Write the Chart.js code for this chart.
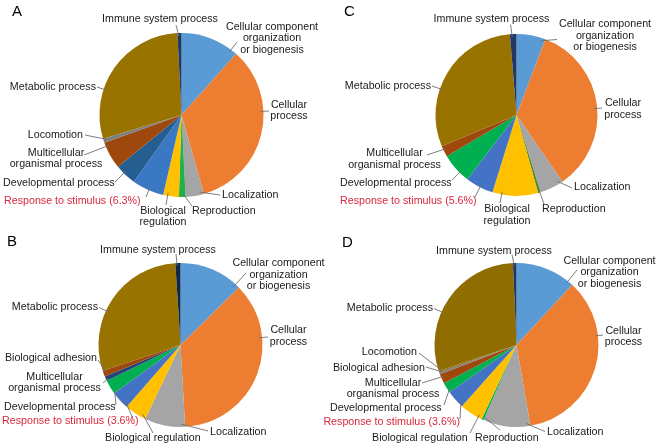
<!DOCTYPE html>
<html>
<head>
<meta charset="utf-8">
<script src="https://cdn.jsdelivr.net/npm/chart.js@4.4.0/dist/chart.umd.min.js"></script>
<style>
  html, body { margin: 0; padding: 0; background: #fff; }
  #wrap { position: relative; width: 657px; height: 446px; }
  #wrap canvas { position: absolute; left: 0; top: 0; }
</style>
</head>
<body>
<div id="wrap">
  <canvas id="pieA" width="657" height="446"></canvas>
  <canvas id="pieB" width="657" height="446"></canvas>
  <canvas id="pieC" width="657" height="446"></canvas>
  <canvas id="pieD" width="657" height="446"></canvas>
</div>
<script>
// categories (clockwise from 12 o'clock) and percentages
const namesA = ['Cellular component\norganization\nor biogenesis', 'Cellular\nprocess', 'Localization', 'Reproduction',
  'Biological\nregulation', 'Response to stimulus', 'Developmental process', 'Multicellular\norganismal process',
  'Locomotion', 'Metabolic process', 'Immune system process'];
const valuesA = [11.6, 34.0, 3.6, 1.3, 3.1, 6.3, 4.2, 5.4, 0.8, 28.9, 0.8];

const namesB = ['Cellular component\norganization\nor biogenesis', 'Cellular\nprocess', 'Localization',
  'Biological regulation', 'Response to stimulus', 'Developmental process', 'Multicellular\norganismal process',
  'Biological adhesion', 'Metabolic process', 'Immune system process'];
const valuesB = [12.6, 36.5, 8.0, 4.3, 3.6, 2.8, 0.9, 1.2, 29.1, 1.0];

const namesC = ['Cellular component\norganization\nor biogenesis', 'Cellular\nprocess', 'Localization', 'Reproduction',
  'Biological\nregulation', 'Response to stimulus', 'Developmental process', 'Multicellular\norganismal process',
  'Metabolic process', 'Immune system process'];
const valuesC = [5.8, 34.6, 4.8, 0.5, 9.1, 5.6, 6.1, 2.2, 30.0, 1.3];

const namesD = ['Cellular component\norganization\nor biogenesis', 'Cellular\nprocess', 'Localization', 'Reproduction',
  'Biological regulation', 'Response to stimulus', 'Developmental process', 'Multicellular\norganismal process',
  'Biological adhesion', 'Locomotion', 'Metabolic process', 'Immune system process'];
const valuesD = [11.9, 35.4, 9.3, 0.4, 4.6, 3.6, 2.1, 1.9, 0.4, 0.3, 29.4, 0.7];

// slice colours
const colorsA = ['#5B9BD5', '#ED7D31', '#A5A5A5', '#22B04B', '#FFC000', '#3A78C3', '#255E91', '#9E480E', '#7F7F7F', '#997300', '#1F3864'];
const colorsB = ['#5B9BD5', '#ED7D31', '#A5A5A5', '#FFC000', '#4472C4', '#00B050', '#264478', '#9E480E', '#997300', '#0F2847'];
const colorsC = ['#5B9BD5', '#ED7D31', '#A5A5A5', '#4E8A2E', '#FFC000', '#4472C4', '#00B050', '#9E480E', '#997300', '#1F3864'];
const colorsD = ['#5B9BD5', '#ED7D31', '#A5A5A5', '#00B050', '#FFC000', '#4472C4', '#00B050', '#9E480E', '#7F7F7F', '#8C6A10', '#8F6D00', '#1F3864'];

const W = 657, H = 446;

// label placement: [textX, textY, align, leaderX, leaderY]
const layoutA = [
  [272, 27, 'center', 237, 42], [289, 105, 'center', 269, 111], [222, 195, 'left', 220, 195],
  [192, 211, 'left', 192, 206], [163, 211, 'center', 166, 205], [4, 201, 'left', 146, 197],
  [3, 183, 'left', 115, 182], [56, 153, 'center', 84, 155], [83, 135, 'right', 85, 135],
  [96, 87, 'right', 97, 87], [160, 19.5, 'center', 176, 25]
];
const layoutB = [
  [278.5, 263.5, 'center', 246, 273], [288.5, 330.5, 'center', 268, 337], [210, 432.5, 'left', 208, 431],
  [105, 438.5, 'left', 153, 433], [2, 421.5, 'left', 133, 419], [4, 407.5, 'left', 116, 405],
  [54.5, 377, 'center', 103, 383], [97, 358, 'right', 98, 360], [98, 307.5, 'right', 99, 307.5],
  [158, 250, 'center', 176, 254]
];
const layoutC = [
  [605, 24.5, 'center', 557, 39.5], [623, 103.5, 'center', 602, 108], [574, 187.5, 'left', 572, 188],
  [542, 209.5, 'left', 544, 204], [507, 209.5, 'center', 500, 203], [340, 201, 'left', 475, 197],
  [340, 183, 'left', 452, 180], [394.5, 153.5, 'center', 427, 155], [431, 86, 'right', 432, 86],
  [491.5, 19.5, 'center', 510.5, 24.5]
];
const layoutD = [
  [609.5, 261, 'center', 577, 270], [623.5, 331, 'center', 603, 335], [547, 432.5, 'left', 545, 431.5],
  [475, 438.5, 'left', 500, 430], [372, 438.5, 'left', 470, 433], [460, 422.5, 'right', 460, 419],
  [330, 408.5, 'left', 444, 405], [393, 383, 'center', 422, 383], [425, 368.5, 'right', 426, 367],
  [417, 352, 'right', 419, 353], [433, 308.5, 'right', 434, 308.5], [494, 251, 'center', 512, 254.5]
];

function callouts(layout, letter, lx, ly) {
  return {
    id: 'callouts' + letter,
    afterDraw(chart) {
      const ctx = chart.ctx;
      const arcs = chart.getDatasetMeta(0).data;
      const names = chart.data.labels;
      const vals = chart.data.datasets[0].data;
      ctx.save();
      ctx.font = '10.7px "Liberation Sans", Arial, sans-serif';
      ctx.textBaseline = 'middle';
      layout.forEach((it, i) => {
        const [tx, ty, align, ex, ey] = it;
        const a = arcs[i];
        // leader: from the slice rim nearest to the label end, clamped into the slice
        const TWO = Math.PI * 2;
        let ang = Math.atan2(ey - a.y, ex - a.x);
        while (ang < a.startAngle) ang += TWO;
        while (ang >= a.startAngle + TWO) ang -= TWO;
        const span = a.endAngle - a.startAngle;
        const m = Math.min(span * 0.35, 0.05);
        if (ang > a.endAngle - m) {
          const dEnd = ang - (a.endAngle - m);
          const dStart = (a.startAngle + TWO) - ang + m;
          ang = dEnd < dStart ? a.endAngle - m : a.startAngle + m;
        }
        if (ang < a.startAngle + m) ang = a.startAngle + m;
        const r = a.outerRadius - 3;
        ctx.strokeStyle = '#6f6f6f';
        ctx.lineWidth = 0.9;
        ctx.beginPath();
        ctx.moveTo(a.x + Math.cos(ang) * r, a.y + Math.sin(ang) * r);
        ctx.lineTo(ex, ey);
        ctx.stroke();

        let text = names[i];
        ctx.fillStyle = '#1a1a1a';
        if (text === 'Response to stimulus') {
          text += ' (' + vals[i].toFixed(1) + '%)';
          ctx.fillStyle = '#D9283B';
        }
        ctx.textAlign = align;
        text.split('\n').forEach((line, k) => ctx.fillText(line, tx, ty + k * 11.5));
      });
      ctx.fillStyle = '#000';
      ctx.textAlign = 'left';
      ctx.textBaseline = 'alphabetic';
      ctx.font = '15px "Liberation Sans", Arial, sans-serif';
      ctx.fillText(letter, lx, ly);
      ctx.restore();
    }
  };
}

function pad(cx, cy, r) {
  return { left: cx - r, top: cy - r, right: W - cx - r, bottom: H - cy - r };
}

function makePie(id, names, values, colors, layout, letter, lx, ly, cx, cy, r) {
  new Chart(document.getElementById(id), {
    type: 'pie',
    data: {
      labels: names,
      datasets: [{ data: values, backgroundColor: colors, borderWidth: 0, hoverOffset: 0, offset: 0 }]
    },
    options: {
      responsive: false,
      animation: false,
      events: [],
      layout: { padding: pad(cx, cy, r) },
      plugins: { legend: { display: false }, tooltip: { enabled: false }, title: { display: false } }
    },
    plugins: [callouts(layout, letter, lx, ly)]
  });
}

makePie('pieA', namesA, valuesA, colorsA, layoutA, 'A', 12, 16, 181.5, 115, 82);
makePie('pieB', namesB, valuesB, colorsB, layoutB, 'B', 7, 246, 180.5, 345, 82);
makePie('pieC', namesC, valuesC, colorsC, layoutC, 'C', 344, 16, 516.5, 115, 81);
makePie('pieD', namesD, valuesD, colorsD, layoutD, 'D', 342, 247, 516.5, 345, 82);
</script>
</body>
</html>
